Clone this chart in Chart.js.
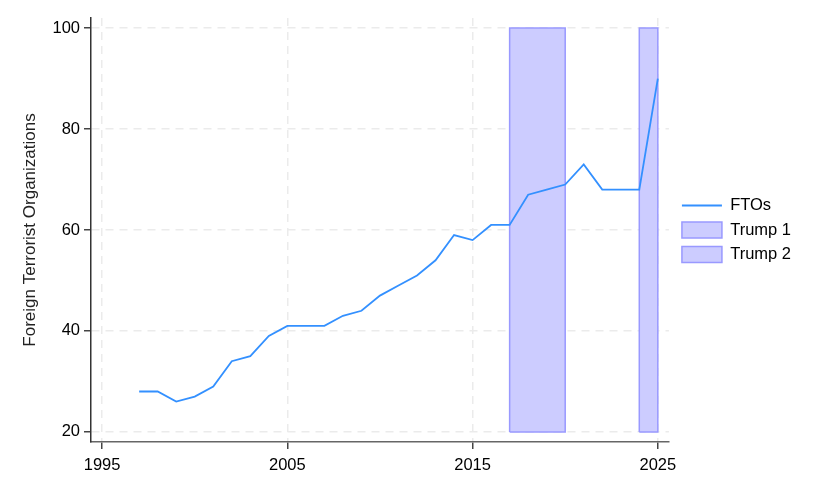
<!DOCTYPE html>
<html>
<head>
<meta charset="utf-8">
<script src="https://cdn.jsdelivr.net/npm/chart.js@4"></script>
<style>
  html, body { margin: 0; padding: 0; background: #fff; }
  #wrap { width: 831px; height: 499px; }
</style>
</head>
<body>
<div id="wrap"><canvas id="ftoChart" width="831" height="499"></canvas></div>
<script>
// data
const years = [1997, 1998, 1999, 2000, 2001, 2002, 2003, 2004, 2005, 2006,
               2007, 2008, 2009, 2010, 2011, 2012, 2013, 2014, 2015, 2016,
               2017, 2018, 2019, 2020, 2021, 2022, 2023, 2024, 2025];
const ftos = [28, 28, 26, 27, 29, 34, 35, 39, 41, 41,
              41, 43, 44, 47, 49, 51, 54, 59, 58, 61,
              61, 67, 68, 69, 73, 68, 68, 68, 90];
const trump1 = [2017, 2020];
const trump2 = [2024, 2025];
const bandRange = [20, 100];
const xTicks = [1995, 2005, 2015, 2025];
const yTicks = [20, 40, 60, 80, 100];

const font = { family: "'Liberation Sans', Arial, sans-serif", size: 16.5 };

// closed rectangle path for a shaded term
function band(span) {
    return [
        { x: span[0], y: bandRange[0] },
        { x: span[0], y: bandRange[1] },
        { x: span[1], y: bandRange[1] },
        { x: span[1], y: bandRange[0] },
        { x: span[0], y: bandRange[0] }
    ];
}

const bandStyle = {
    backgroundColor: '#ccccff',
    borderColor: '#9999ff',
    borderWidth: 1.5,
    pointRadius: 0,
    pointStyle: 'rect',
    tension: 0,
    fill: 'shape'
};

const gridOpts = {
    color: '#ebebeb',
    lineWidth: 1.5,
    tickColor: '#444',
    tickLength: 7,
    tickWidth: 1.5,
    tickBorderDash: []
};

const ctx = document.getElementById('ftoChart').getContext('2d');

new Chart(ctx, {
    type: 'line',
    data: {
        datasets: [
            {
                label: 'FTOs',
                data: years.map((y, i) => ({ x: y, y: ftos[i] })),
                borderColor: '#3390ff',
                backgroundColor: '#3390ff',
                borderWidth: 1.8,
                pointRadius: 0,
                pointStyle: 'line',
                tension: 0,
                fill: false,
                order: 0
            },
            Object.assign({ label: 'Trump 1', data: band(trump1), order: 1 }, bandStyle),
            Object.assign({ label: 'Trump 2', data: band(trump2), order: 2 }, bandStyle)
        ]
    },
    options: {
        responsive: false,
        animation: false,
        layout: { padding: { top: 18, right: 30, bottom: 0, left: 0 } },
        plugins: {
            tooltip: { enabled: false },
            legend: {
                position: 'right',
                align: 'center',
                fullSize: false,
                labels: {
                    font: font,
                    color: '#000',
                    usePointStyle: true,
                    pointStyleWidth: 40,
                    boxHeight: 16,
                    padding: 8
                }
            }
        },
        scales: {
            x: {
                type: 'linear',
                min: 1994.4,
                max: 2025.6,
                afterBuildTicks: (s) => { s.ticks = xTicks.map(v => ({ value: v })); },
                afterFit: (s) => { s.height = 57; },
                ticks: { font: font, color: '#000', padding: 7, maxRotation: 0,
                         callback: (v) => String(v) },
                grid: gridOpts,
                border: { color: '#666', width: 1.5, dash: [8, 6] }
            },
            y: {
                min: 18,
                max: 102,
                afterBuildTicks: (s) => { s.ticks = yTicks.map(v => ({ value: v })); },
                afterFit: (s) => { s.width = 91; },
                ticks: { font: font, color: '#000', padding: 4,
                         callback: (v) => String(v) },
                title: {
                    display: true,
                    text: 'Foreign Terrorist Organizations',
                    font: { family: font.family, size: 17 },
                    color: '#222',
                    padding: { top: 20, bottom: 0 }
                },
                grid: gridOpts,
                border: { color: '#333', width: 1.5, dash: [8, 6] }
            },
            // empty axis that only keeps a gap before the legend
            gap: {
                type: 'linear',
                position: 'right',
                display: true,
                afterFit: (s) => { s.width = 5; },
                ticks: { display: false },
                grid: { display: false },
                border: { display: false }
            }
        }
    }
});
</script>
</body>
</html>
